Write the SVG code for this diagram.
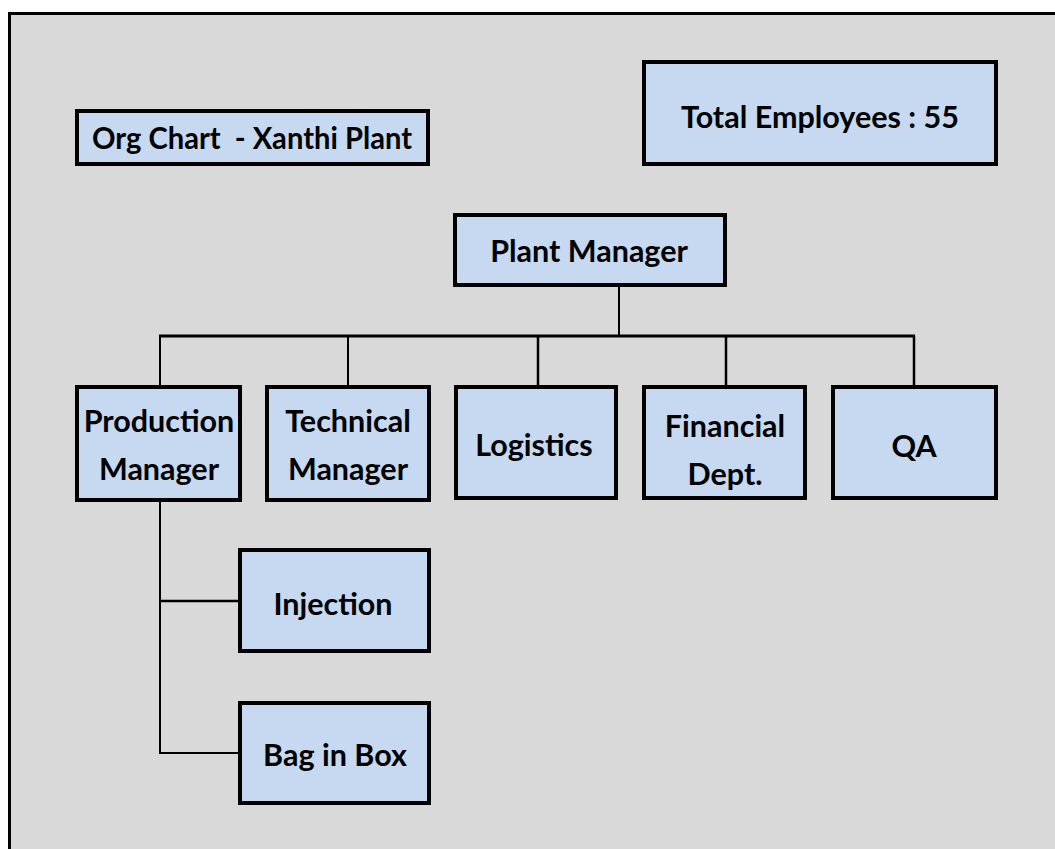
<svg xmlns="http://www.w3.org/2000/svg" width="1055" height="849" viewBox="0 0 1055 849">
  <style>
    .box { fill: #c6d9f1; stroke: #000; stroke-width: 4; }
    .lbl { font-family: Lato, "Open Sans", "Liberation Sans", sans-serif; font-weight: 700; font-size: 30.5px; fill: #000; text-anchor: middle; white-space: pre; }
    .wire { stroke: #000; fill: none; }
  </style>
  <rect width="1055" height="849" fill="#fff"/>
  <!-- page frame -->
  <rect x="9.5" y="13.5" width="1060" height="850" fill="#d9d9d9" stroke="#000" stroke-width="3"/>

  <g id="connectors">
    <line class="wire" x1="619" y1="287" x2="619" y2="336" stroke-width="2"/>
    <line class="wire" x1="159" y1="336" x2="915" y2="336" stroke-width="3"/>
    <line class="wire" x1="160" y1="336" x2="160" y2="386" stroke-width="2"/>
    <line class="wire" x1="348" y1="336" x2="348" y2="386" stroke-width="2"/>
    <line class="wire" x1="538" y1="336" x2="538" y2="386" stroke-width="2.5"/>
    <line class="wire" x1="726" y1="336" x2="726" y2="386" stroke-width="2.5"/>
    <line class="wire" x1="914" y1="336" x2="914" y2="386" stroke-width="2.5"/>
    <line class="wire" x1="160" y1="500" x2="160" y2="754" stroke-width="2"/>
    <line class="wire" x1="160" y1="601" x2="239" y2="601" stroke-width="2.5"/>
    <line class="wire" x1="160" y1="753" x2="239" y2="753" stroke-width="2"/>
  </g>

  <g id="title">
    <rect class="box" x="77" y="111" width="351" height="53"/>
    <text class="lbl" x="252" y="149" xml:space="preserve" textLength="320" lengthAdjust="spacingAndGlyphs">Org Chart  - Xanthi Plant</text>
  </g>
  <g id="total-employees">
    <rect class="box" x="644" y="62" width="352" height="102"/>
    <text class="lbl" x="820" y="128">Total Employees : 55</text>
  </g>
  <g id="plant-manager">
    <rect class="box" x="455" y="215" width="270" height="70"/>
    <text class="lbl" x="589" y="262">Plant Manager</text>
  </g>
  <g id="production-manager">
    <rect class="box" x="77" y="387" width="163" height="113"/>
    <text class="lbl" x="159" y="432">Production</text>
    <text class="lbl" x="159" y="480">Manager</text>
  </g>
  <g id="technical-manager">
    <rect class="box" x="267" y="387" width="162" height="113"/>
    <text class="lbl" x="348" y="432">Technical</text>
    <text class="lbl" x="348" y="480">Manager</text>
  </g>
  <g id="logistics">
    <rect class="box" x="456" y="387" width="160" height="111"/>
    <text class="lbl" x="534" y="456">Logistics</text>
  </g>
  <g id="financial-dept">
    <rect class="box" x="644" y="387" width="161" height="111"/>
    <text class="lbl" x="725" y="437">Financial</text>
    <text class="lbl" x="725" y="485">Dept.</text>
  </g>
  <g id="qa">
    <rect class="box" x="833" y="387" width="163" height="111"/>
    <text class="lbl" x="914" y="457">QA</text>
  </g>
  <g id="injection">
    <rect class="box" x="240" y="550" width="189" height="101"/>
    <text class="lbl" x="333" y="615">Injection</text>
  </g>
  <g id="bag-in-box">
    <rect class="box" x="240" y="703" width="189" height="100"/>
    <text class="lbl" x="335" y="766">Bag in Box</text>
  </g>
</svg>
